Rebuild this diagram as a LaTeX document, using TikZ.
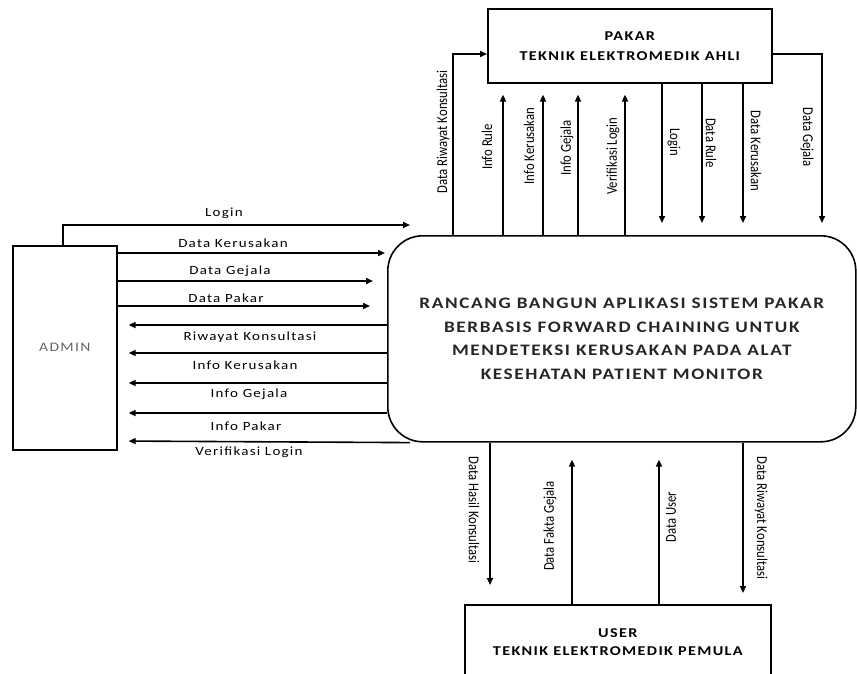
\documentclass[tikz,border=0pt]{standalone}
\usepackage{fontspec}
\setmainfont{Carlito}
\newfontfamily\widefont{Carlito}[FakeStretch=1.2, LetterSpace=10]
\newfontfamily\narrowfont{Carlito}[FakeStretch=0.85]
\usepackage{tikz}
\usetikzlibrary{positioning,calc,arrows.meta}

\tikzset{
  entity/.style={draw, line width=1.6pt, inner sep=0pt, align=center},
  flow/.style={line width=1.6pt, -{Triangle[length=7pt,width=6pt]}},
  hlbl/.style={font=\widefont\fontsize{12.5}{14}\selectfont, inner sep=0pt},
  vlbl/.style={font=\narrowfont\fontsize{15}{16}\selectfont, inner sep=0pt},
  uplbl/.style={vlbl, rotate=90},
  dnlbl/.style={vlbl, rotate=-90}
}

\begin{document}
\begin{tikzpicture}[x=1pt, y=-1pt]
    \useasboundingbox (0,0) rectangle (857,673);
    \clip (0,0) rectangle (857,673);

    % Entities
    \node[entity, minimum width=284pt, minimum height=74pt, anchor=north west,
          font=\widefont\bfseries\fontsize{13.5}{20}\selectfont] (pakar) at (487,8)
          {PAKAR\\TEKNIK ELEKTROMEDIK AHLI};
    \node[entity, rounded corners=35pt, minimum width=468pt, minimum height=206pt, anchor=north west,
          font=\widefont\bfseries\fontsize{16}{23.5}\selectfont, text=black!85] (main) at (387,235)
          {RANCANG BANGUN APLIKASI SISTEM PAKAR\\BERBASIS FORWARD CHAINING UNTUK\\
           MENDETEKSI KERUSAKAN PADA ALAT\\KESEHATAN PATIENT MONITOR};
    \node[entity, minimum width=104pt, minimum height=204pt, anchor=north west,
          font=\widefont\fontsize{13}{14}\selectfont, text=black!60] (admin) at (12,245) {ADMIN};
    \node[entity, minimum width=306pt, minimum height=74pt, anchor=north west,
          font=\widefont\bfseries\fontsize{13.5}{18}\selectfont] (user) at (464,604)
          {USER\\TEKNIK ELEKTROMEDIK PEMULA};

    % Admin <-> sistem
    \coordinate (loginend) at (410,225);
    \draw[flow] (admin.north -| 63,0) |- (loginend);
    \foreach \y/\s in {253/2, 281/14, 306/17}
        \draw[flow, shorten >=\s pt] (admin.east |- 0,\y) -- (main.west |- 0,\y);
    \foreach \y in {325,353,383,413}
        \draw[flow, shorten >=11pt] (main.west |- 0,\y) -- (admin.east |- 0,\y);
    \draw[flow, shorten >=11pt] (main.south -| 410,0) -- (admin.east |- 0,441);

    \foreach \x/\y/\t [count=\i] in {224/213/Login, 233/243/Data Kerusakan, 230/271/Data Gejala,
        226/298/Data Pakar, 250/337/Riwayat Konsultasi, 245/365/Info Kerusakan,
        249/394/Info Gejala, 246/426/Info Pakar, 249/452/Verifikasi Login}
        \node[hlbl] (h\i) at (\x,\y) {\t};

    % Sistem <-> pakar
    \draw[flow] (main.north -| 453,0) |- (pakar.west |- 0,54);
    \draw[flow, shorten >=12pt] (pakar.east |- 0,54) -| (main.north -| 822,0);
    \foreach \x in {503,543,578,625}
        \draw[flow, shorten >=11pt] (main.north -| \x,0) -- (pakar.south -| \x,0);
    \foreach \x in {662,702,743}
        \draw[flow, shorten >=12pt] (pakar.south -| \x,0) -- (main.north -| \x,0);

    % Sistem <-> user
    \draw[flow, shorten >=19pt] (main.south -| 490,0) -- (user.north -| 490,0);
    \draw[flow, shorten >=11pt] (main.south -| 743,0) -- (user.north -| 743,0);
    \foreach \x in {572,659}
        \draw[flow, shorten >=17pt] (user.north -| \x,0) -- (main.south -| \x,0);

    % Vertical labels
    \foreach \x/\y/\t [count=\i] in {443/132/Data Riwayat Konsultasi, 487/147/Info Rule,
        529/146/Info Kerusakan, 567/148/Info Gejala, 613/156/Verifikasi Login,
        550/526/Data Fakta Gejala, 671/517/Data User}
        \node[uplbl] (u\i) at (\x,\y) {\t};
    \foreach \x/\y/\t [count=\i] in {674/142/Login, 711/143/Data Rule, 756/151/Data Kerusakan,
        807/137/Data Gejala, 474/510/Data Hasil Konsultasi, 761/518/Data Riwayat Konsultasi}
        \node[dnlbl] (d\i) at (\x,\y) {\t};
\end{tikzpicture}
\end{document}
